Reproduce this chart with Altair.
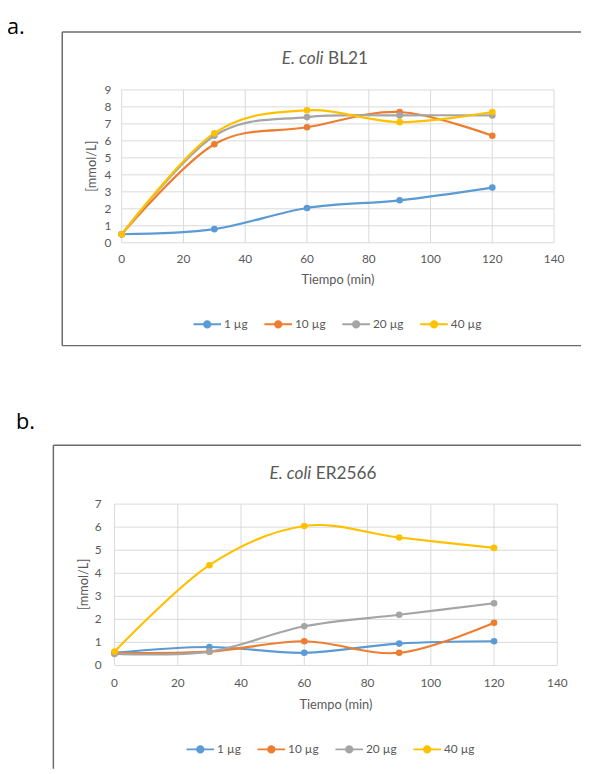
import altair as alt
import pandas as pd

# ---- data ----
minutes = [0, 30, 60, 90, 120]
series = ["1 µg", "10 µg", "20 µg", "40 µg"]
colors = ["#5B9BD5", "#ED7D31", "#A5A5A5", "#FFC000"]

bl21_1 = [0.5, 0.8, 2.05, 2.5, 3.25]
bl21_10 = [0.5, 5.8, 6.8, 7.7, 6.3]
bl21_20 = [0.5, 6.3, 7.4, 7.5, 7.5]
bl21_40 = [0.5, 6.45, 7.8, 7.1, 7.7]

er_1 = [0.55, 0.8, 0.55, 0.95, 1.05]
er_10 = [0.55, 0.6, 1.05, 0.55, 1.85]
er_20 = [0.5, 0.6, 1.7, 2.2, 2.7]
er_40 = [0.6, 4.35, 6.05, 5.55, 5.1]

x_ticks = [0, 20, 40, 60, 80, 100, 120, 140]
x_title = "Tiempo (min)"
y_title = "[mmol/L]"

FONT = "Lato"
TXT = "#595959"
GRID = "#D9D9D9"
BOX = "#6a6a6a"

LEG_PATH = ("M-1,0L1,0M-0.23,0A0.23,0.23 0 1,0 0.23,0"
            "A0.23,0.23 0 1,0 -0.23,0Z")


def make_df(lists):
    rows = []
    for name, vals in zip(series, lists):
        for t, v in zip(minutes, vals):
            rows.append({"t": t, "v": v, "s": name})
    return pd.DataFrame(rows)


one = pd.DataFrame({"k": [0]})


def panel(lists, ymax, xr, yr, xlab_dy, ylab_dx, xtitle_dy, ytitle_xy,
          t_anchor, t_base, title_rest, letter, letter_xy,
          box, leg_xy):
    xs = alt.Scale(domain=[0, 140], range=xr, nice=False, zero=False)
    ys = alt.Scale(domain=[0, ymax], range=yr, nice=False, zero=False)

    def X(f):
        return alt.X(f, type="quantitative", scale=xs, axis=None)

    def Y(f):
        return alt.Y(f, type="quantitative", scale=ys, axis=None)

    y_ticks = list(range(0, ymax + 1))
    vg = pd.DataFrame({"t": x_ticks, "y0": [0] * len(x_ticks),
                       "y1": [ymax] * len(x_ticks)})
    hg = pd.DataFrame({"v": y_ticks, "x0": [0] * len(y_ticks),
                       "x1": [140] * len(y_ticks)})

    vgrid = alt.Chart(vg).mark_rule(color=GRID, strokeWidth=1).encode(
        x=X("t"), y=Y("y0"), y2="y1")
    hgrid = alt.Chart(hg).mark_rule(color=GRID, strokeWidth=1).encode(
        y=Y("v"), x=X("x0"), x2="x1")
    xlab = alt.Chart(vg).mark_text(dy=xlab_dy, font=FONT, fontSize=12,
                                   color=TXT, baseline="middle").encode(
        x=X("t"), y=Y("y0"), text=alt.Text("t:Q", format="d"))
    ylab = alt.Chart(hg).mark_text(dx=ylab_dx, font=FONT, fontSize=12,
                                   color=TXT, align="right",
                                   baseline="middle").encode(
        x=X("x0"), y=Y("v"), text=alt.Text("v:Q", format="d"))
    xt = pd.DataFrame({"t": [70], "y0": [0]})
    xtitle = alt.Chart(xt).mark_text(text=x_title, dy=xtitle_dy, font=FONT,
                                     fontSize=13, color=TXT,
                                     baseline="middle").encode(
        x=X("t"), y=Y("y0"))
    ytitle = alt.Chart(one).mark_text(text=y_title, angle=270, font=FONT,
                                      fontSize=13, color=TXT,
                                      baseline="middle").encode(
        x=alt.value(ytitle_xy[0]), y=alt.value(ytitle_xy[1]))

    legend = alt.Legend(
        orient="none", legendX=leg_xy[0], legendY=leg_xy[1],
        direction="horizontal", title=None, symbolType=LEG_PATH,
        symbolSize=784, symbolStrokeWidth=2, labelFont=FONT, labelFontSize=12,
        labelColor=TXT, labelOffset=2, columnPadding=12, padding=0,
    )
    color = alt.Color("s:N", scale=alt.Scale(domain=series, range=colors),
                      legend=legend, sort=series)
    lines = alt.Chart(make_df(lists)).mark_line(
        interpolate="cardinal", tension=0, strokeWidth=2.2,
        point=alt.OverlayMarkDef(filled=True, size=45)).encode(
        x=X("t"), y=Y("v"), color=color, detail="s:N")

    d = alt.Chart(one)
    bl, bt, bb, br, bottom = box
    deco = [
        d.mark_rule(color=BOX, strokeWidth=1.5).encode(
            x=alt.value(bl), y=alt.value(bt), y2=alt.value(bb)),
        d.mark_rule(color=BOX, strokeWidth=1.5).encode(
            x=alt.value(bl), x2=alt.value(br), y=alt.value(bt)),
    ]
    if bottom:
        deco.append(d.mark_rule(color=BOX, strokeWidth=1.5).encode(
            x=alt.value(bl), x2=alt.value(br), y=alt.value(bb)))
    deco += [
        d.mark_text(text="E. coli", font=FONT, fontSize=17.5,
                    fontStyle="italic", color=TXT, align="right",
                    baseline="alphabetic").encode(
            x=alt.value(t_anchor - 2), y=alt.value(t_base)),
        d.mark_text(text=title_rest, font=FONT, fontSize=17.5, color=TXT,
                    align="left", baseline="alphabetic").encode(
            x=alt.value(t_anchor + 2.5), y=alt.value(t_base)),
        d.mark_text(text=letter, font="Open Sans", fontSize=22,
                    color="#000000", align="left",
                    baseline="alphabetic").encode(
            x=alt.value(letter_xy[0]), y=alt.value(letter_xy[1])),
    ]
    return alt.layer(vgrid, hgrid, xlab, ylab, xtitle, ytitle, lines, *deco)


# coordinates below are relative to the chart origin (page minus 8px margin)
pa = panel([bl21_1, bl21_10, bl21_20, bl21_40], 9,
           [115.3, 553.7], [232.7, 77.7], 17, -10.5, 38, (85.3, 155),
           322, 51, "BL21", "a.", (-1, 21),
           (55, 19, 337, 581, True), (187, 300))

pb = panel([er_1, er_10, er_20, er_40], 7,
           [108, 557], [661.3, 497.7], 18, -13, 40, (77, 579),
           309.5, 472, "ER2566", "b.", (8, 422),
           (46, 438, 766, 581, False), (180, 731))

chart = alt.layer(pa, pb).resolve_scale(
    x="independent", y="independent", color="independent"
).resolve_legend(color="independent").properties(
    width=581, height=766, autosize="none", padding=0, background="white"
).configure_view(stroke=None)

chart.save("out.html", embed_options={"renderer": "svg", "actions": False})
